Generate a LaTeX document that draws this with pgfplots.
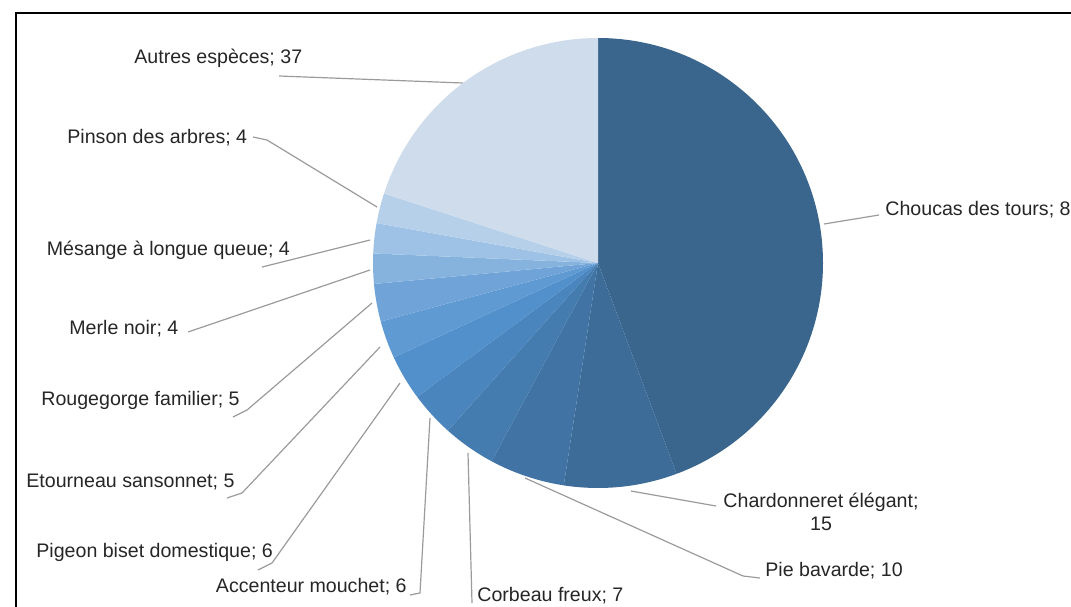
\documentclass[border=0pt]{standalone}
\usepackage{pgfplots}
\pgfplotsset{compat=1.18}
\usepackage{pgfplotstable}
\usepackage{fontspec}
\setmainfont{Liberation Sans}

\definecolor{s1}{RGB}{58,102,142}
\definecolor{s2}{RGB}{61,108,152}
\definecolor{s3}{RGB}{65,116,164}
\definecolor{s4}{RGB}{69,124,176}
\definecolor{s5}{RGB}{74,133,190}
\definecolor{s6}{RGB}{82,144,204}
\definecolor{s7}{RGB}{95,154,211}
\definecolor{s8}{RGB}{112,164,216}
\definecolor{s9}{RGB}{134,178,222}
\definecolor{s10}{RGB}{158,194,229}
\definecolor{s11}{RGB}{183,208,234}
\definecolor{s12}{RGB}{207,220,236}
\definecolor{leader}{RGB}{155,155,155}

% counts, clockwise from 12 o'clock
\pgfplotstableread[col sep=comma]{
name,value,col
Choucas des tours,82,s1
Chardonneret élégant,15,s2
Pie bavarde,10,s3
Corbeau freux,7,s4
Accenteur mouchet,6,s5
Pigeon biset domestique,6,s6
Etourneau sansonnet,5,s7
Rougegorge familier,5,s8
Merle noir,4,s9
Mésange à longue queue,4,s10
Pinson des arbres,4,s11
Autres espèces,37,s12
}\birds

\begin{document}
\begin{tikzpicture}[lbl/.style={inner sep=0pt, font=\fontsize{9.8}{11.5}\selectfont, text=black!85}]
\useasboundingbox (0,0) rectangle (535.5pt,303pt);
\begin{axis}[scale only axis, width=535.5pt, height=303pt,
    xmin=0, xmax=1071, ymin=0, ymax=606, y dir=reverse,
    hide axis, clip=false]
  \coordinate (O) at (axis cs:598,263);
  % frame
  \draw[line width=1pt] (axis cs:15.5,615) -- (axis cs:15.5,13) -- (axis cs:1080,13);
  % leader lines
  \draw[leader, line width=0.6pt] (axis cs:279,76) -- (axis cs:463,83);
  \draw[leader, line width=0.6pt] (axis cs:253,137) -- (axis cs:267,140) -- (axis cs:377,207);
  \draw[leader, line width=0.6pt] (axis cs:262,267) -- (axis cs:370,240);
  \draw[leader, line width=0.6pt] (axis cs:188,332) -- (axis cs:370,270);
  \draw[leader, line width=0.6pt] (axis cs:233,417) -- (axis cs:247,410) -- (axis cs:372,303);
  \draw[leader, line width=0.6pt] (axis cs:227,498) -- (axis cs:242,493) -- (axis cs:380,347);
  \draw[leader, line width=0.6pt] (axis cs:258,570) -- (axis cs:272,563) -- (axis cs:400,383);
  \draw[leader, line width=0.6pt] (axis cs:410,595) -- (axis cs:420,593) -- (axis cs:430,418);
  \draw[leader, line width=0.6pt] (axis cs:468,453) -- (axis cs:472,603);
  \draw[leader, line width=0.6pt] (axis cs:525,478) -- (axis cs:743,576) -- (axis cs:760,578);
  \draw[leader, line width=0.6pt] (axis cs:631,491) -- (axis cs:716,506);
  \draw[leader, line width=0.6pt] (axis cs:824,224) -- (axis cs:879,215);
  % labels
  \node[lbl, anchor=west] at (axis cs:134,58.5) {Autres espèces; 37};
  \node[lbl, anchor=west] at (axis cs:67,138) {Pinson des arbres; 4};
  \node[lbl, anchor=west] at (axis cs:46.5,250) {Mésange à longue queue; 4};
  \node[lbl, anchor=west] at (axis cs:69,329) {Merle noir; 4};
  \node[lbl, anchor=west] at (axis cs:41,400) {Rougegorge familier; 5};
  \node[lbl, anchor=west] at (axis cs:26,482) {Etourneau sansonnet; 5};
  \node[lbl, anchor=west] at (axis cs:36,552) {Pigeon biset domestique; 6};
  \node[lbl, anchor=east] at (axis cs:407,587) {Accenteur mouchet; 6};
  \node[lbl, anchor=west] at (axis cs:477,596) {Corbeau freux; 7};
  \node[lbl, anchor=west] at (axis cs:765,571) {Pie bavarde; 10};
  \node[lbl, align=center] at (axis cs:821,512) {Chardonneret élégant;\\15};
  \node[lbl, anchor=west] at (axis cs:885,210) {Choucas des tours; 82};
\end{axis}
% slices, from the table
\pgfplotstablegetrowsof{\birds}
\pgfmathtruncatemacro\last{\pgfplotsretval-1}
\pgfmathsetmacro\total{0}
\pgfplotsforeachungrouped \i in {0,...,\last}{%
  \pgfplotstablegetelem{\i}{value}\of\birds
  \pgfmathsetmacro\total{\total+\pgfplotsretval}}
\def\cum{0}
\pgfplotsforeachungrouped \i in {0,...,\last}{%
  \pgfplotstablegetelem{\i}{value}\of\birds \let\sv\pgfplotsretval
  \pgfplotstablegetelem{\i}{col}\of\birds \let\sc\pgfplotsretval
  \pgfmathsetmacro\sa{90-360/\total*\cum}
  \pgfmathsetmacro\cum{\cum+\sv}
  \pgfmathsetmacro\sb{90-360/\total*\cum}
  \fill[fill=\sc] (O) -- ++(\sa:112.5pt) arc[start angle=\sa, end angle=\sb, radius=112.5pt] -- cycle;
}
\end{tikzpicture}
\end{document}
